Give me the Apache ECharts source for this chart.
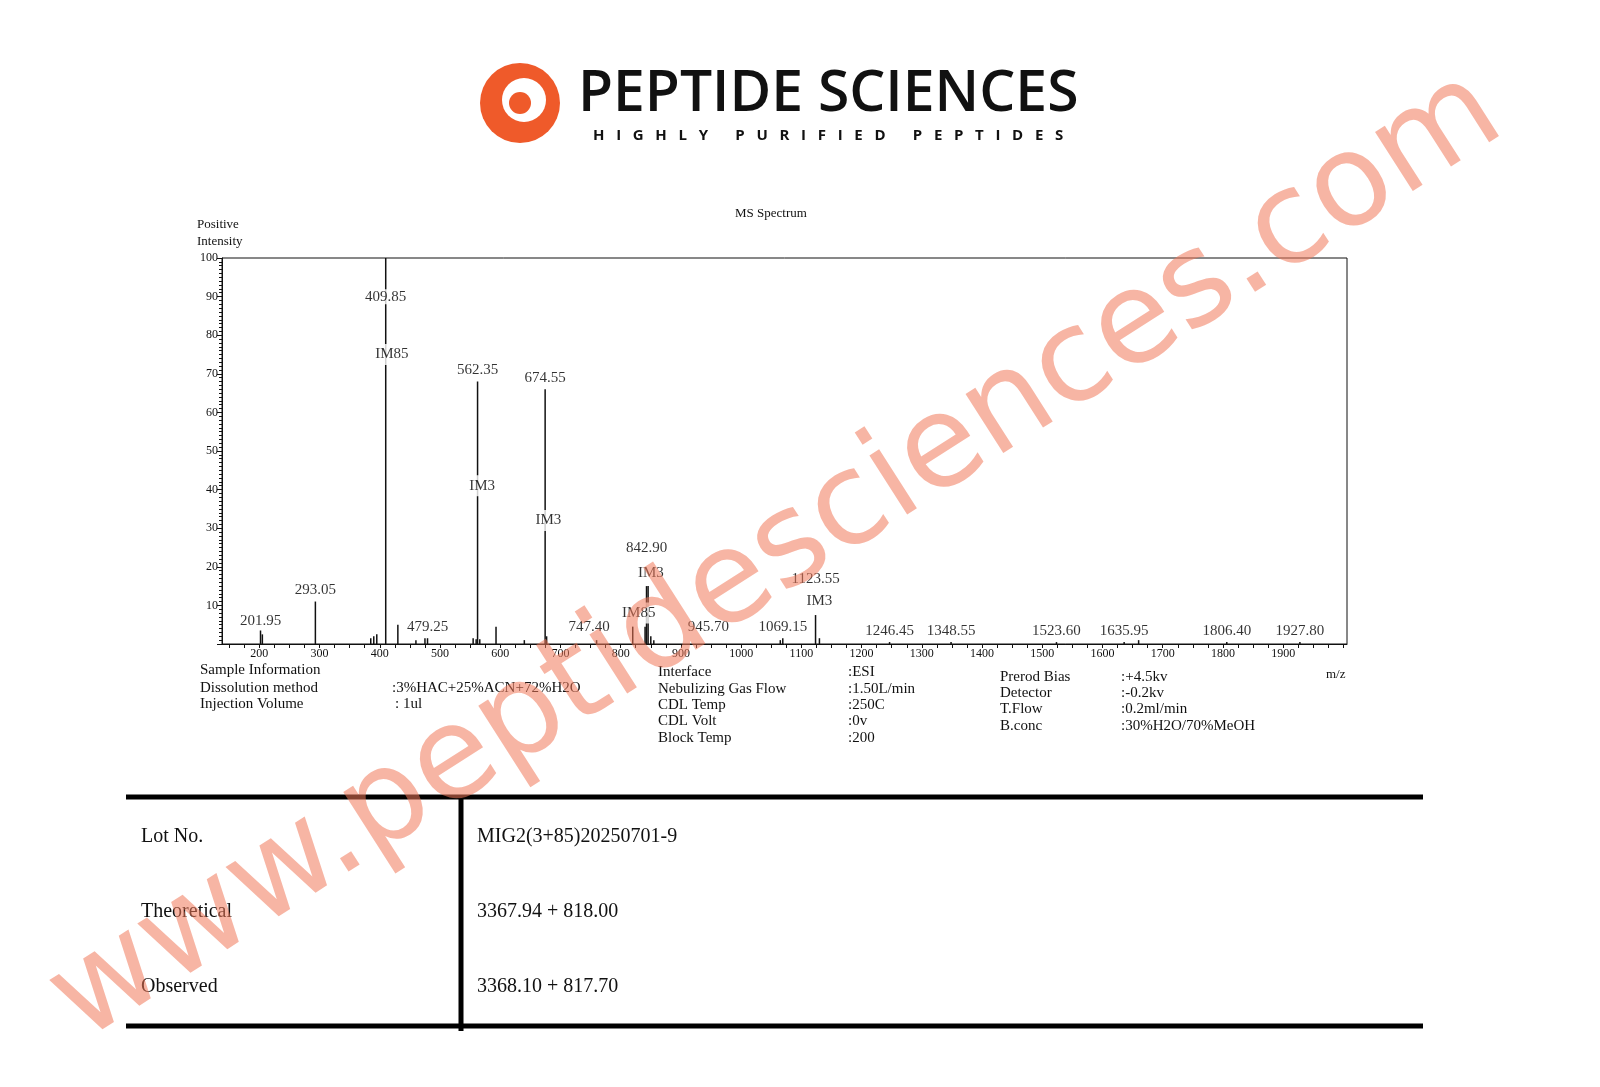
<!DOCTYPE html>
<html><head><meta charset="utf-8">
<script src="https://cdn.jsdelivr.net/npm/echarts@6/dist/echarts.min.js"></script>
<style>html,body{margin:0;background:#fff}#chart-container{width:1600px;height:1087px}</style>
</head><body><div id="chart-container"></div>
<script>
var dom = document.getElementById('chart-container');
var myChart = echarts.init(dom);

// peaks: m/z and relative intensity
var peakMz = [201.95, 205, 293.05, 385, 390, 395, 409.85, 430, 460, 475, 479.25, 555, 560, 562.35, 566, 593, 640, 674.55, 677, 760, 820, 840.5, 842.90, 845.5, 850, 855, 1065, 1069.15, 1123.55, 1130, 1246.45, 1348.55, 1523.6, 1635.95, 1660, 1806.4, 1927.8];
var peakInt = [3.5, 2.5, 11, 1.5, 2, 2.5, 100, 5, 1, 1.5, 1.5, 1.5, 1.2, 68, 1.2, 4.5, 1, 66, 2, 1, 4.5, 4.5, 15, 15, 2, 1, 1, 1.5, 7.5, 1.5, 0.5, 0.5, 0.5, 0.5, 1, 0.5, 0.5];
// peak number labels: m/z, y position of label
var labelMz = [201.95, 293.05, 409.85, 479.25, 562.35, 674.55, 747.40, 842.90, 945.70, 1069.15, 1123.55, 1246.45, 1348.55, 1523.60, 1635.95, 1806.40, 1927.80];
var labelY = [4, 12, 88, 2.5, 69, 67, 2.5, 23, 2.5, 2.5, 15, 1.5, 1.5, 1.5, 1.5, 1.5, 1.5];
// compound tags
var tagX = [420, 570, 680, 850, 830, 1130];
var tagY = [75, 41, 32, 18.5, 8, 11];
var tagText = ['IM85', 'IM3', 'IM3', 'IM3', 'IM85', 'IM3'];
var xTicks = [200, 300, 400, 500, 600, 700, 800, 900, 1000, 1100, 1200, 1300, 1400, 1500, 1600, 1700, 1800, 1900];
var xMinor = [];
for (var v = 150; v <= 2000; v += 25) xMinor.push(v);

var serif = 'Liberation Serif';
var txt = function (x, y, s, size) {
  return { type: 'text', left: x, top: y, style: { text: s, font: (size || 15) + 'px "' + serif + '"', fill: '#111' } };
};

var graphics = [
  // logo
  { type: 'circle', shape: { cx: 520, cy: 103, r: 40 }, style: { fill: '#ef5a2a' } },
  { type: 'circle', shape: { cx: 524, cy: 100, r: 22 }, style: { fill: '#fff' } },
  { type: 'circle', shape: { cx: 520, cy: 103, r: 11 }, style: { fill: '#ef5a2a' } },
  { type: 'text', left: 578, top: 66, style: { text: 'PEPTIDE SCIENCES', font: '600 57px "Open Sans"', fill: '#111' } },
  { type: 'text', left: 593, top: 128, style: { text: 'H   I   G   H   L   Y       P   U   R   I   F   I   E   D       P   E   P   T   I   D   E   S', font: 'bold 15px "Open Sans"', fill: '#111' } },
  // chart headers
  txt(735, 207, 'MS Spectrum', 13),
  txt(197, 218, 'Positive', 13),
  txt(197, 235, 'Intensity', 13),
  txt(1326, 668, 'm/z', 13),
  // info
  txt(200, 663, 'Sample Information'), txt(200, 681, 'Dissolution method'), txt(200, 697, 'Injection Volume'),
  txt(392, 681, ':3%HAC+25%ACN+72%H2O'), txt(395, 697, ': 1ul'),
  txt(658, 665, 'Interface'), txt(658, 682, 'Nebulizing Gas Flow'), txt(658, 698, 'CDL Temp'), txt(658, 714, 'CDL Volt'), txt(658, 731, 'Block Temp'),
  txt(848, 665, ':ESI'), txt(848, 682, ':1.50L/min'), txt(848, 698, ':250C'), txt(848, 714, ':0v'), txt(848, 731, ':200'),
  txt(1000, 670, 'Prerod Bias'), txt(1000, 686, 'Detector'), txt(1000, 702, 'T.Flow'), txt(1000, 719, 'B.conc'),
  txt(1121, 670, ':+4.5kv'), txt(1121, 686, ':-0.2kv'), txt(1121, 702, ':0.2ml/min'), txt(1121, 719, ':30%H2O/70%MeOH'),
  // table
  { type: 'line', shape: { x1: 126, y1: 797, x2: 1423, y2: 797 }, style: { stroke: '#000', lineWidth: 5 } },
  { type: 'line', shape: { x1: 126, y1: 1026, x2: 1423, y2: 1026 }, style: { stroke: '#000', lineWidth: 5 } },
  { type: 'line', shape: { x1: 461, y1: 797, x2: 461, y2: 1031 }, style: { stroke: '#000', lineWidth: 5 } },
  txt(141, 827, 'Lot No.', 20), txt(141, 902, 'Theoretical', 20), txt(141, 977, 'Observed', 20),
  txt(477, 827, 'MIG2(3+85)20250701-9', 20), txt(477, 902, '3367.94 + 818.00', 20), txt(477, 977, '3368.10 + 817.70', 20),
  // watermark
  { type: 'text', x: 30, y: 960, rotation: 32.6 * Math.PI / 180, z: 100,
    style: { text: 'www.peptidesciences.com', font: '128px "DejaVu Sans"', fill: 'rgba(240,120,90,0.55)', textBaseline: 'bottom' } }
];

var option = {
  animation: false,
  backgroundColor: '#fff',
  graphic: graphics,
  grid: { left: 222, top: 258, right: 253, bottom: 443, show: true, borderColor: '#111', borderWidth: 1 },
  xAxis: {
    type: 'value', min: 138, max: 2006,
    axisLine: { lineStyle: { color: '#111' } },
    axisTick: { customValues: xMinor, length: 4, lineStyle: { color: '#111' } },
    axisLabel: { customValues: xTicks, color: '#111', fontFamily: serif, fontSize: 12, margin: 4, formatter: function (v) { return String(v); } },
    splitLine: { show: false }
  },
  yAxis: {
    type: 'value', min: 0, max: 100, interval: 10,
    axisLine: { show: true, lineStyle: { color: '#111' } },
    axisTick: { show: true, length: 5, lineStyle: { color: '#111' } },
    minorTick: { show: true, splitNumber: 10, length: 3, lineStyle: { color: '#111' } },
    axisLabel: { color: '#111', fontFamily: serif, fontSize: 12, margin: 4, formatter: function (v) { return v === 0 ? '' : v; } },
    splitLine: { show: false }
  },
  series: [
    {
      type: 'bar', barWidth: 1.5, itemStyle: { color: '#111' },
      data: peakMz.map(function (m, i) { return [m, peakInt[i]]; })
    },
    {
      type: 'scatter', symbolSize: 0, z: 5,
      data: labelMz.map(function (m, i) { return [m, labelY[i]]; }),
      label: {
        show: true, position: 'top', distance: 0, color: '#000', fontFamily: serif, fontSize: 15,
        backgroundColor: '#fff',
        formatter: function (p) { return labelMz[p.dataIndex].toFixed(2); }
      }
    },
    {
      type: 'scatter', symbolSize: 0, z: 5,
      data: tagX.map(function (m, i) { return [m, tagY[i]]; }),
      label: {
        show: true, position: 'inside', color: '#000', fontFamily: serif, fontSize: 15,
        backgroundColor: '#fff', padding: [3, 0],
        formatter: function (p) { return tagText[p.dataIndex]; }
      }
    }
  ]
};

myChart.setOption(option);
window.addEventListener('resize', myChart.resize);
</script></body></html>
